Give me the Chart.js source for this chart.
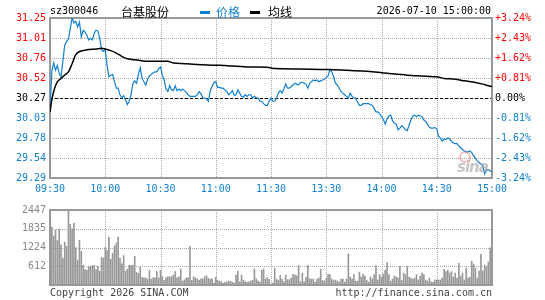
<!DOCTYPE html>
<html>
<head>
<meta charset="utf-8">
<script src="https://cdn.jsdelivr.net/npm/chart.js@4.4.1/dist/chart.umd.min.js"></script>
<style>
  body { margin: 0; background: #fff; }
  #wrap { position: relative; width: 545px; height: 300px; overflow: hidden;
          font-family: "DejaVu Sans Mono", monospace; font-size: 10px; }
  #priceChart { position: absolute; left: 0; top: 0; }
  #volChart { position: absolute; left: 0; top: 200px; }
  .t { position: absolute; white-space: nowrap; line-height: 12px; }
  .cjk { font-family: "Noto Sans CJK SC", sans-serif; font-size: 12px; line-height: 14px; }
  .bar { position: absolute; height: 3px; width: 10px; }
</style>
</head>
<body>
<div id="wrap">
  <canvas id="priceChart" width="545" height="200"></canvas>
  <canvas id="volChart" width="545" height="100"></canvas>

  <div class="t" style="left:50px; top:5px;">sz300046</div>
  <div class="t cjk" style="left:121px; top:5px;">台基股份</div>
  <div class="bar" style="left:200px; top:11px; background:#1080d0;"></div>
  <div class="t cjk" style="left:216px; top:5px; color:#1080d0;">价格</div>
  <div class="bar" style="left:250px; top:11px; background:#000;"></div>
  <div class="t cjk" style="left:268px; top:5px;">均线</div>
  <div class="t" style="right:54px; top:5px;">2026-07-10 15:00:00</div>

  <div class="t" style="left:459px; top:151px; width:8px; height:8px; border:2px solid rgba(235,110,110,0.45); border-radius:50%;"></div>
  <div class="t" style="left:457px; top:158px; font:italic bold 15px 'DejaVu Sans', sans-serif; color:rgba(160,160,160,0.6); letter-spacing:-1px;">sina</div>

  <div class="t" style="left:50px; top:287px; color:#444;">Copyright 2026 SINA.COM</div>
  <div class="t" style="right:53px; top:287px; color:#444;">http://finance.sina.com.cn</div>
</div>

<script>
const BLUE = '#1080d0';
const MONO = '"DejaVu Sans Mono", monospace';

// 分时价格, 每分钟一个 (09:30 - 15:00, 241 个)
const prices = [
  30.10, 30.60, 30.70, 30.61, 30.67, 30.57, 30.53, 30.72, 30.92, 30.96,
  30.99, 31.12, 31.25, 31.19, 31.21, 31.14, 31.20, 31.02, 31.10, 31.08,
  31.04, 30.98, 31.00, 30.98, 31.06, 31.10, 31.09, 31.00, 30.86, 30.84,
  30.86, 30.67, 30.53, 30.55, 30.56, 30.47, 30.39, 30.39, 30.31, 30.27,
  30.30, 30.25, 30.19, 30.23, 30.31, 30.45, 30.48, 30.45, 30.56, 30.64,
  30.51, 30.47, 30.43, 30.50, 30.54, 30.56, 30.58, 30.59, 30.59, 30.63,
  30.65, 30.55, 30.49, 30.38, 30.35, 30.42, 30.37, 30.36, 30.42, 30.36,
  30.38, 30.36, 30.38, 30.36, 30.34, 30.31, 30.29, 30.29, 30.29, 30.29,
  30.31, 30.35, 30.32, 30.27, 30.27, 30.26, 30.23, 30.36, 30.41, 30.46,
  30.47, 30.40, 30.40, 30.39, 30.39, 30.37, 30.35, 30.31, 30.33, 30.36,
  30.30, 30.31, 30.37, 30.33, 30.29, 30.28, 30.31, 30.29, 30.31, 30.31,
  30.27, 30.29, 30.27, 30.27, 30.23, 30.23, 30.20, 30.18, 30.18, 30.23,
  30.27, 30.23, 30.23, 30.27, 30.33, 30.36, 30.33, 30.38, 30.44, 30.39,
  30.39, 30.41, 30.43, 30.45, 30.44, 30.43, 30.46, 30.46, 30.45, 30.44,
  30.39, 30.45, 30.47, 30.49, 30.48, 30.49, 30.47, 30.48, 30.49, 30.50,
  30.52, 30.54, 30.62, 30.59, 30.53, 30.45, 30.43, 30.39, 30.35, 30.33,
  30.31, 30.29, 30.27, 30.33, 30.29, 30.27, 30.27, 30.22, 30.18, 30.18,
  30.20, 30.20, 30.20, 30.20, 30.19, 30.18, 30.14, 30.10, 30.10, 30.08,
  30.04, 30.01, 29.95, 30.01, 30.05, 30.06, 29.99, 29.96, 29.95, 29.88,
  29.90, 29.93, 29.91, 29.88, 29.87, 29.94, 30.00, 30.05, 30.06, 30.04,
  30.06, 30.05, 30.04, 30.00, 29.98, 29.95, 29.91, 29.90, 29.90, 29.91,
  29.89, 29.80, 29.78, 29.74, 29.77, 29.76, 29.78, 29.77, 29.74, 29.72,
  29.71, 29.71, 29.68, 29.66, 29.64, 29.62, 29.61, 29.61, 29.62, 29.60,
  29.56, 29.53, 29.50, 29.48, 29.46, 29.44, 29.34, 29.39, 29.39, 29.38,
  29.36
];

// 均线 (读到的拐点)
const avgMinutes = [0, 1, 2, 3, 4, 6, 8, 10, 12, 14, 16, 20, 25, 28, 30, 33, 36, 39, 42, 46,
  52, 59, 64, 67, 73, 80, 92, 107, 118, 122, 136, 151, 161, 170, 178, 184, 189, 194, 202, 210,
  214, 220, 225, 231, 235, 238, 240];
const avgPrices = [30.10, 30.25, 30.35, 30.42, 30.47, 30.51, 30.55, 30.59, 30.69, 30.80,
  30.84, 30.86, 30.87, 30.88, 30.87, 30.85, 30.82, 30.78, 30.75, 30.74,
  30.72, 30.72, 30.72, 30.70, 30.69, 30.68, 30.67, 30.65, 30.646, 30.63,
  30.625, 30.62, 30.61, 30.60, 30.585, 30.57, 30.56, 30.55, 30.54, 30.53,
  30.51, 30.50, 30.48, 30.46, 30.44, 30.42, 30.41];

// 成交量, 每分钟一个
const volumes = [
  410, 1890, 1600, 1790, 1450, 1820, 1310, 870, 1400, 1260,
  2447, 1980, 1830, 2020, 1220, 810, 1460, 1100, 640, 500,
  480, 610, 590, 640, 640, 500, 610, 450, 900, 880,
  1220, 1130, 1560, 840, 1030, 1270, 1370, 1560, 880, 690,
  960, 450, 520, 640, 640, 640, 930, 410, 380, 580,
  240, 240, 230, 190, 470, 190, 230, 240, 440, 230,
  490, 270, 150, 230, 270, 270, 270, 330, 440, 230,
  270, 520, 130, 170, 230, 230, 1260, 150, 270, 230,
  200, 155, 200, 200, 270, 300, 220, 185, 200, 60,
  250, 155, 125, 105, 60, 90, 105, 125, 125, 90,
  60, 320, 450, 105, 320, 155, 105, 90, 105, 125,
  155, 520, 200, 125, 90, 480, 520, 200, 240, 185,
  30, 60, 540, 185, 155, 320, 185, 105, 320, 175,
  175, 230, 350, 320, 300, 640, 105, 380, 105, 250,
  640, 200, 194, 194, 97, 194, 223, 515, 150, 126,
  223, 359, 340, 194, 146, 165, 126, 97, 194, 194,
  97, 194, 1020, 262, 194, 340, 126, 126, 418, 262,
  359, 291, 146, 97, 262, 194, 340, 631, 165, 340,
  262, 359, 486, 728, 340, 126, 194, 291, 262, 223,
  612, 146, 388, 340, 612, 262, 223, 194, 223, 340,
  165, 291, 388, 340, 165, 126, 223, 97, 97, 165,
  165, 165, 165, 223, 515, 437, 486, 388, 437, 262,
  388, 223, 709, 291, 388, 165, 553, 223, 262, 777,
  680, 553, 223, 456, 1000, 456, 651, 612, 748, 1214,
  971
];

const timeLabels = ['09:30', '10:00', '10:30', '11:00', '11:30', '13:30', '14:00', '14:30', '15:00'];
const priceTickLabels = ['29.29', '29.54', '29.78', '30.03', '30.27', '30.52', '30.76', '31.01', '31.25'];
const pctTickLabels = ['-3.24%', '-2.43%', '-1.62%', '-0.81%', '0.00%', '+0.81%', '+1.62%', '+2.43%', '+3.24%'];
const volTickLabels = ['', '612', '1224', '1835', '2447'];

const prevClose = 30.27;
const priceMin = 29.29, priceMax = 31.25;
const volMax = 2447;

function tickColor(i) {
    if (i < 4) return BLUE;
    if (i === 4) return '#000';
    return '#f00';
}

// 虚线网格 + 边框 + 昨收线
const sinaGrid = {
    id: 'sinaGrid',
    beforeDatasetsDraw(chart, args, opts) {
        const { ctx, chartArea: a, scales } = chart;
        ctx.save();
        ctx.lineWidth = 1;
        ctx.strokeStyle = '#a8a8a8';
        ctx.setLineDash([1, 1]);
        scales.x.ticks.forEach(t => {
            const px = Math.round(scales.x.getPixelForValue(t.value)) + 0.5;
            if (px <= a.left + 1 || px >= a.right - 1) return;
            ctx.beginPath(); ctx.moveTo(px, a.top); ctx.lineTo(px, a.bottom); ctx.stroke();
        });
        scales.y.ticks.forEach(t => {
            const py = Math.round(scales.y.getPixelForValue(t.value)) + 0.5;
            if (py <= a.top + 1 || py >= a.bottom - 1) return;
            ctx.beginPath(); ctx.moveTo(a.left, py); ctx.lineTo(a.right, py); ctx.stroke();
        });
        if (opts.base !== undefined) {
            const py = Math.round(scales.y.getPixelForValue(opts.base)) + 0.5;
            ctx.strokeStyle = '#000';
            ctx.setLineDash([3, 2]);
            ctx.beginPath(); ctx.moveTo(a.left, py); ctx.lineTo(a.right, py); ctx.stroke();
        }
        ctx.setLineDash([]);
        ctx.strokeStyle = '#999';
        ctx.lineWidth = 2;
        ctx.strokeRect(Math.round(a.left), Math.round(a.top), Math.round(a.right - a.left), Math.round(a.bottom - a.top));
        ctx.restore();
    }
};

const evenTicks = (n, lo, hi) => s => {
    s.ticks = Array.from({ length: n }, (_, i) => ({ value: lo + i * (hi - lo) / (n - 1) }));
};

new Chart(document.getElementById('priceChart'), {
    type: 'line',
    data: {
        datasets: [
            {
                label: '均线',
                data: avgMinutes.map((m, i) => ({ x: m, y: avgPrices[i] })),
                borderColor: '#000',
                borderWidth: 1.5,
                pointRadius: 0,
                tension: 0.3
            },
            {
                label: '价格',
                data: prices.map((p, i) => ({ x: i, y: p })),
                borderColor: BLUE,
                borderWidth: 1.2,
                pointRadius: 0,
                tension: 0
            }
        ]
    },
    options: {
        responsive: false,
        animation: false,
        layout: { padding: { top: 18, left: 0, right: 0, bottom: 0 } },
        plugins: {
            legend: { display: false },
            tooltip: { enabled: false },
            sinaGrid: { base: prevClose }
        },
        scales: {
            x: {
                type: 'linear', min: 0, max: 240, offset: false,
                grid: { display: false, drawTicks: false },
                border: { display: false },
                afterBuildTicks: evenTicks(timeLabels.length, 0, 240),
                afterFit: s => { s.height = 22; },
                ticks: {
                    color: BLUE, font: { family: MONO, size: 10 }, padding: 5,
                    maxRotation: 0, autoSkip: false,
                    callback: (v, i) => timeLabels[i]
                }
            },
            y: {
                position: 'left', min: priceMin, max: priceMax,
                grid: { display: false, drawTicks: false },
                border: { display: false },
                afterBuildTicks: evenTicks(priceTickLabels.length, priceMin, priceMax),
                afterFit: s => { s.width = 50; },
                ticks: {
                    color: c => tickColor(c.index), font: { family: MONO, size: 10 }, padding: 4,
                    autoSkip: false,
                    callback: (v, i) => priceTickLabels[i]
                }
            },
            yPct: {
                position: 'right', min: priceMin, max: priceMax,
                grid: { display: false, drawTicks: false },
                border: { display: false },
                afterBuildTicks: evenTicks(pctTickLabels.length, priceMin, priceMax),
                afterFit: s => { s.width = 53; },
                ticks: {
                    color: c => tickColor(c.index), font: { family: MONO, size: 10 }, padding: 3,
                    autoSkip: false,
                    callback: (v, i) => pctTickLabels[i]
                }
            }
        }
    },
    plugins: [sinaGrid]
});

new Chart(document.getElementById('volChart'), {
    type: 'bar',
    data: {
        datasets: [{
            label: '成交量',
            data: volumes.map((v, i) => ({ x: i, y: v })),
            backgroundColor: '#999',
            barThickness: 1
        }]
    },
    options: {
        responsive: false,
        animation: false,
        layout: { padding: { top: 1, left: 0, right: 53, bottom: 0 } },
        plugins: { legend: { display: false }, tooltip: { enabled: false } },
        scales: {
            x: {
                type: 'linear', min: 0, max: 240, offset: false,
                grid: { display: false, drawTicks: false, offset: false },
                border: { display: false },
                afterBuildTicks: evenTicks(timeLabels.length, 0, 240),
                afterFit: s => { s.height = 15; },
                ticks: { display: false }
            },
            y: {
                position: 'left', min: 0, max: volMax,
                grid: { display: false, drawTicks: false },
                border: { display: false },
                afterBuildTicks: evenTicks(volTickLabels.length, 0, volMax),
                afterFit: s => { s.width = 50; },
                ticks: {
                    color: '#888', font: { family: MONO, size: 10 }, padding: 4,
                    autoSkip: false,
                    callback: (v, i) => volTickLabels[i]
                }
            }
        }
    },
    plugins: [sinaGrid]
});
</script>
</body>
</html>
